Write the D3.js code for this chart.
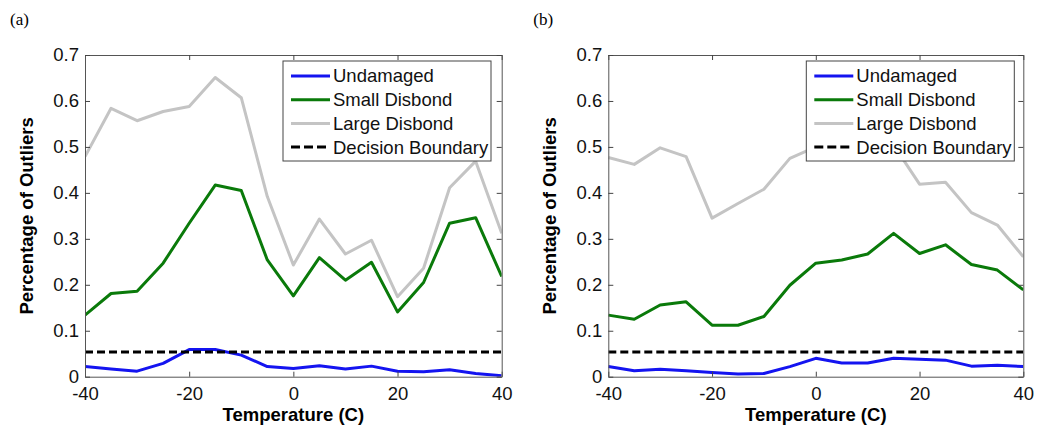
<!DOCTYPE html>
<html>
<head>
<meta charset="utf-8">
<script src="https://cdn.jsdelivr.net/npm/d3@7"></script>
<style>
  body { margin: 0; background: #fff; }
  svg { display: block; }
</style>
</head>
<body>
<div id="chart"></div>
<script>
// Temperature steps shared by both panels
const temps = [-40, -35, -30, -25, -20, -15, -10, -5, 0, 5, 10, 15, 20, 25, 30, 35, 40];
const xTicks = [-40, -20, 0, 20, 40];
const yTicks = [0, 0.1, 0.2, 0.3, 0.4, 0.5, 0.6, 0.7];
const boundary = 0.054;

// panel (a)
const undamagedA = [0.022, 0.017, 0.012, 0.029, 0.059, 0.059, 0.047, 0.022, 0.018, 0.024, 0.017, 0.023, 0.012, 0.011, 0.015, 0.007, 0.002];
const smallA = [0.134, 0.181, 0.186, 0.247, 0.334, 0.417, 0.405, 0.254, 0.176, 0.259, 0.210, 0.249, 0.141, 0.205, 0.334, 0.346, 0.218];
const largeA = [0.479, 0.584, 0.557, 0.577, 0.588, 0.651, 0.607, 0.392, 0.243, 0.343, 0.267, 0.297, 0.174, 0.236, 0.411, 0.469, 0.312];

// panel (b)
const undamagedB = [0.022, 0.013, 0.016, 0.013, 0.009, 0.006, 0.007, 0.022, 0.040, 0.030, 0.030, 0.040, 0.038, 0.036, 0.023, 0.025, 0.022];
const smallB = [0.134, 0.125, 0.156, 0.163, 0.112, 0.112, 0.131, 0.199, 0.247, 0.254, 0.267, 0.312, 0.268, 0.287, 0.244, 0.232, 0.189];
const largeB = [0.477, 0.462, 0.498, 0.479, 0.345, 0.377, 0.408, 0.475, 0.500, 0.520, 0.540, 0.504, 0.419, 0.423, 0.357, 0.330, 0.261];

const seriesNames = ["Undamaged", "Small Disbond", "Large Disbond", "Decision Boundary"];
const colors = { "Undamaged": "#1414f0", "Small Disbond": "#0a7a0a", "Large Disbond": "#c4c4c4", "Decision Boundary": "#000" };

const width = 1044, height = 430;
const svg = d3.select("#chart").append("svg").attr("width", width).attr("height", height);

const font = "'Liberation Sans', Arial, Helvetica, sans-serif";

function panel(tag, left, right, series) {
  const top = 55, bottom = 376.7;
  const x = d3.scaleLinear().domain([-40, 40]).range([left, right]);
  const y = d3.scaleLinear().domain([0, 0.7]).range([bottom, top]);
  const g = svg.append("g");

  // panel tag, serif like the paper
  g.append("text")
    .attr("x", left - 75).attr("y", 25)
    .attr("font-family", "'Liberation Serif', 'Times New Roman', serif")
    .attr("font-size", 17)
    .text(tag);

  const clipId = "clip" + tag.replace(/\W/g, "");
  g.append("clipPath").attr("id", clipId)
    .append("rect").attr("x", left).attr("y", top).attr("width", right - left).attr("height", bottom - top);

  const line = d3.line().x((d, i) => x(temps[i])).y((d) => y(d));
  const plot = g.append("g").attr("clip-path", `url(#${clipId})`);

  // draw order: large, small, undamaged, boundary
  [["Large Disbond", series.large], ["Small Disbond", series.small], ["Undamaged", series.undamaged]].forEach(([name, vals]) => {
    plot.append("path")
      .datum(vals)
      .attr("fill", "none")
      .attr("stroke", colors[name])
      .attr("stroke-width", 3)
      .attr("stroke-linejoin", "round")
      .attr("d", line);
  });

  plot.append("line")
    .attr("x1", x(-40)).attr("x2", x(40))
    .attr("y1", y(boundary)).attr("y2", y(boundary))
    .attr("stroke", "#000").attr("stroke-width", 3)
    .attr("stroke-dasharray", "8,4");

  // axes with inward ticks, mirrored like a MATLAB box
  const tickLen = 5;
  const axB = g.append("g").attr("transform", `translate(0,${bottom})`)
    .call(d3.axisBottom(x).tickValues(xTicks).tickSizeInner(-tickLen).tickSizeOuter(0).tickPadding(10).tickFormat((d) => String(d)));
  const axT = g.append("g").attr("transform", `translate(0,${top})`)
    .call(d3.axisTop(x).tickValues(xTicks).tickSizeInner(-tickLen).tickSizeOuter(0).tickFormat(""));
  const axL = g.append("g").attr("transform", `translate(${left},0)`)
    .call(d3.axisLeft(y).tickValues(yTicks).tickSizeInner(-tickLen).tickSizeOuter(0).tickPadding(6).tickFormat((d) => String(d)));
  const axR = g.append("g").attr("transform", `translate(${right},0)`)
    .call(d3.axisRight(y).tickValues(yTicks).tickSizeInner(-tickLen).tickSizeOuter(0).tickFormat(""));

  [axB, axT, axL, axR].forEach((a) => {
    a.select(".domain").attr("stroke", "#555").attr("stroke-width", 1);
    a.selectAll(".tick line").attr("stroke", "#444");
    a.selectAll(".tick text").attr("font-family", font).attr("font-size", 18.5).attr("fill", "#111");
  });
  axB.selectAll(".tick text").attr("dy", "0.7em");

  // axis titles
  g.append("text")
    .attr("x", (left + right) / 2).attr("y", 421)
    .attr("text-anchor", "middle")
    .attr("font-family", font).attr("font-size", 18.5).attr("font-weight", "bold")
    .text("Temperature (C)");
  g.append("text")
    .attr("transform", `translate(${left - 52},${(top + bottom) / 2}) rotate(-90)`)
    .attr("text-anchor", "middle")
    .attr("font-family", font).attr("font-size", 18.5).attr("font-weight", "bold")
    .text("Percentage of Outliers");

  // legend
  const lx = left + 198, ly = 61, lw = 208, lh = 100;
  const leg = g.append("g");
  leg.append("rect")
    .attr("x", lx).attr("y", ly).attr("width", lw).attr("height", lh)
    .attr("fill", "#fff").attr("stroke", "#444").attr("stroke-width", 1);
  seriesNames.forEach((name, i) => {
    const yy = ly + 15 + i * 23.7;
    leg.append("line")
      .attr("x1", lx + 8).attr("x2", lx + 47)
      .attr("y1", yy).attr("y2", yy)
      .attr("stroke", colors[name]).attr("stroke-width", 3)
      .attr("stroke-dasharray", name === "Decision Boundary" ? "9,4" : null);
    leg.append("text")
      .attr("x", lx + 50).attr("y", yy)
      .attr("dy", "0.35em")
      .attr("font-family", font).attr("font-size", 18.5).attr("fill", "#111")
      .text(name);
  });
}

panel("(a)", 85, 501.7, { undamaged: undamagedA, small: smallA, large: largeA });
panel("(b)", 608.3, 1023.3, { undamaged: undamagedB, small: smallB, large: largeB });
</script>
</body>
</html>
